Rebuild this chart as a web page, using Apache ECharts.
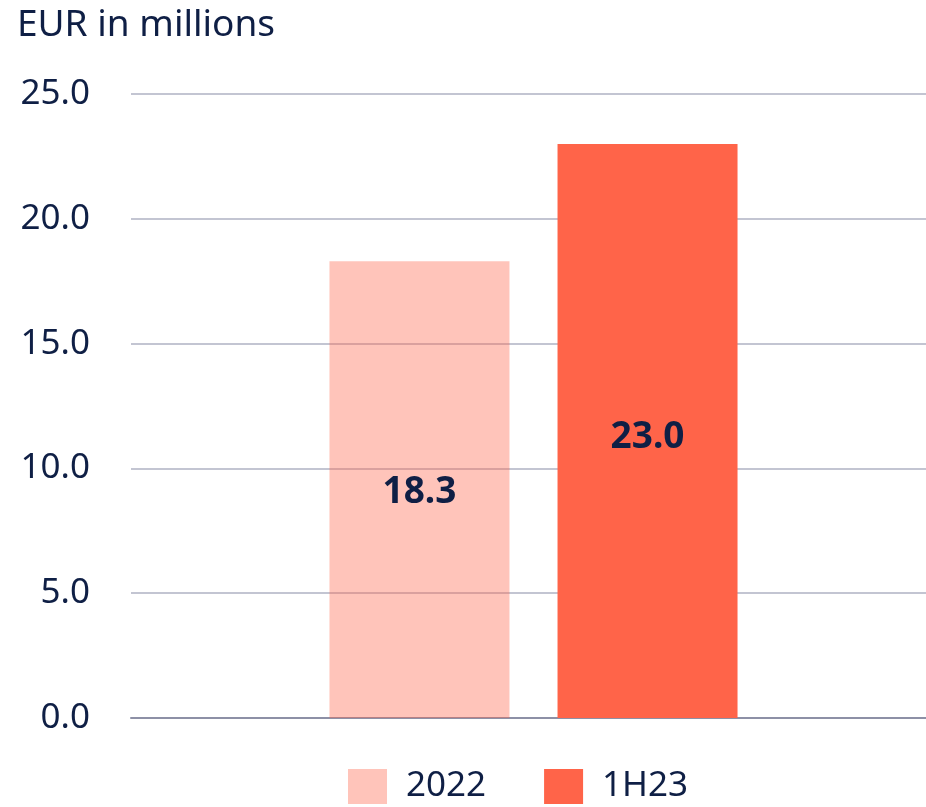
<!DOCTYPE html>
<html><head><meta charset="utf-8">
<script src="https://cdn.jsdelivr.net/npm/echarts@6/dist/echarts.min.js"></script>
<style>html,body{margin:0;padding:0;background:#fff}#c{width:926px;height:807px}</style>
</head><body><div id="c"></div>
<script>
const categories = ['EUR'];
const seriesNames = ['2022', '1H23'];
const values2022 = [18.3];
const values1H23 = [23.0];
const yTicks = [0, 5, 10, 15, 20, 25];

const navy = '#0f1f45';
const font = 'Noto Sans';
const chart = echarts.init(document.getElementById('c'));
chart.setOption({
  animation: false,
  title: { text: 'EUR in millions', left: 12, top: 2,
    textStyle: { fontFamily: font, fontSize: 37, fontWeight: 'normal', color: navy } },
  legend: { bottom: -2, left: 343, itemWidth: 39, itemHeight: 35, itemGap: 58,
    icon: 'rect', data: seriesNames,
    textStyle: { fontFamily: font, fontSize: 35, color: navy, padding: [8, 0, 0, 14] } },
  grid: { left: 131, right: -10, top: 94, bottom: 89, outerBoundsMode: 'none' },
  xAxis: { type: 'category', data: categories, axisTick: { show: false },
    axisLabel: { show: false },
    axisLine: { lineStyle: { color: '#8d90a6', width: 2 } } },
  yAxis: { type: 'value', min: 0, max: 25, interval: 5,
    axisLabel: { fontFamily: font, fontSize: 35, color: navy, margin: 41,
      formatter: v => yTicks.includes(v) ? v.toFixed(1) : '' },
    splitLine: { lineStyle: { color: '#c3c5d2', width: 2 } } },
  series: [
    { name: seriesNames[0], type: 'bar', data: values2022, barWidth: 180, barGap: '26.7%',
      itemStyle: { color: 'rgba(255,100,73,0.38)' },
      label: { show: true, position: 'inside', formatter: p => p.value.toFixed(1), offset: [0, 3],
        fontFamily: font, fontSize: 37, fontWeight: 'bold', color: navy } },
    { name: seriesNames[1], type: 'bar', data: values1H23, barWidth: 180,
      itemStyle: { color: '#ff6449' },
      label: { show: true, position: 'inside', formatter: p => p.value.toFixed(1), offset: [0, 6],
        fontFamily: font, fontSize: 37, fontWeight: 'bold', color: navy } }
  ]
});
</script></body></html>
